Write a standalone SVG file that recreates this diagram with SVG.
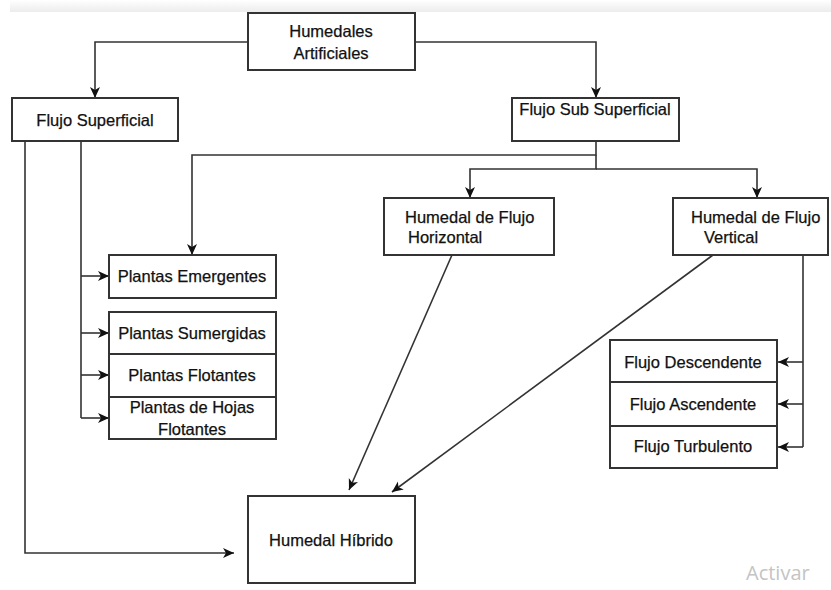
<svg xmlns="http://www.w3.org/2000/svg" width="831" height="590" viewBox="0 0 831 590">
<defs>
<linearGradient id="band" x1="0" y1="0" x2="0" y2="1">
<stop offset="0" stop-color="#ffffff"/>
<stop offset="1" stop-color="#ececec"/>
</linearGradient>
<marker id="arr" markerUnits="userSpaceOnUse" markerWidth="14" markerHeight="12" refX="11" refY="5" orient="auto" viewBox="0 0 14 12">
<path d="M0,0 L11,5 L0,10 L3,5 z" fill="#111111"/>
</marker>
<style>
.box{fill:#ffffff;stroke:#333333;stroke-width:2}
.t{font-family:"Liberation Sans",Arial,sans-serif;font-size:16.5px;fill:#111111;stroke:#111111;stroke-width:0.25}
.c{text-anchor:middle}
.ln{fill:none;stroke:#333333;stroke-width:1.6}
.a{marker-end:url(#arr)}
</style>
</defs>
<rect x="0" y="0" width="831" height="590" fill="#ffffff"/>
<rect x="10" y="0" width="821" height="12" fill="url(#band)"/>

<g id="connectors">
<path class="ln a" d="M248,42 H95 V98"/>
<path class="ln a" d="M415,42 H596 V98"/>
<path class="ln a" d="M596,141 V155 H192 V255"/>
<path class="ln a" d="M596,155 V169 H470 V198"/>
<path class="ln a" d="M596,169 H757 V198"/>
<path class="ln a" d="M25,141 V553 H234"/>
<path class="ln" d="M81,141 V418"/>
<path class="ln a" d="M81,276 H109"/>
<path class="ln a" d="M81,333 H109"/>
<path class="ln a" d="M81,375 H109"/>
<path class="ln a" d="M81,418 H109"/>
<path class="ln a" d="M452,255 L349,490"/>
<path class="ln a" d="M713,255 L392,492"/>
<path class="ln" d="M803,255 V447"/>
<path class="ln a" d="M803,362 H778"/>
<path class="ln a" d="M803,404 H778"/>
<path class="ln a" d="M803,447 H778"/>
</g>

<g id="humedales-artificiales">
<rect class="box" x="248" y="13" width="167" height="57"/>
<text class="t c" x="331" y="37">Humedales</text>
<text class="t c" x="331" y="59">Artificiales</text>
</g>
<g id="flujo-superficial">
<rect class="box" x="12" y="98" width="166" height="43"/>
<text class="t c" x="95" y="126">Flujo Superficial</text>
</g>
<g id="flujo-sub-superficial">
<rect class="box" x="512" y="98" width="167" height="43"/>
<text class="t c" x="595" y="115">Flujo Sub Superficial</text>
</g>
<g id="humedal-horizontal">
<rect class="box" x="384" y="198" width="170" height="57"/>
<text class="t" x="405" y="223">Humedal de Flujo</text>
<text class="t" x="408" y="243">Horizontal</text>
</g>
<g id="humedal-vertical">
<rect class="box" x="673" y="198" width="155" height="57"/>
<text class="t" x="691" y="223">Humedal de Flujo</text>
<text class="t" x="704" y="243">Vertical</text>
</g>
<g id="plantas-emergentes">
<rect class="box" x="109" y="255" width="167" height="43"/>
<text class="t c" x="192" y="282">Plantas Emergentes</text>
</g>
<g id="plantas-stack">
<rect class="box" x="109" y="312" width="167" height="127"/>
<line class="ln" x1="109" y1="354" x2="276" y2="354" style="stroke-width:2"/>
<line class="ln" x1="109" y1="397" x2="276" y2="397" style="stroke-width:2"/>
<text class="t c" x="192" y="339">Plantas Sumergidas</text>
<text class="t c" x="192" y="381">Plantas Flotantes</text>
<text class="t c" x="192" y="413">Plantas de Hojas</text>
<text class="t c" x="192" y="435">Flotantes</text>
</g>
<g id="flujo-stack">
<rect class="box" x="610" y="340" width="167" height="128"/>
<line class="ln" x1="610" y1="382" x2="777" y2="382" style="stroke-width:2"/>
<line class="ln" x1="610" y1="426" x2="777" y2="426" style="stroke-width:2"/>
<text class="t c" x="693" y="368">Flujo Descendente</text>
<text class="t c" x="693" y="410">Flujo Ascendente</text>
<text class="t c" x="693" y="452">Flujo Turbulento</text>
</g>
<g id="humedal-hibrido">
<rect class="box" x="248" y="496" width="167" height="87"/>
<text class="t c" x="331" y="546">Humedal Híbrido</text>
</g>
<text x="746" y="580" style="font-family:'Open Sans','DejaVu Sans',sans-serif;font-size:20px;fill:#c4c4c4">Activar</text>
</svg>
